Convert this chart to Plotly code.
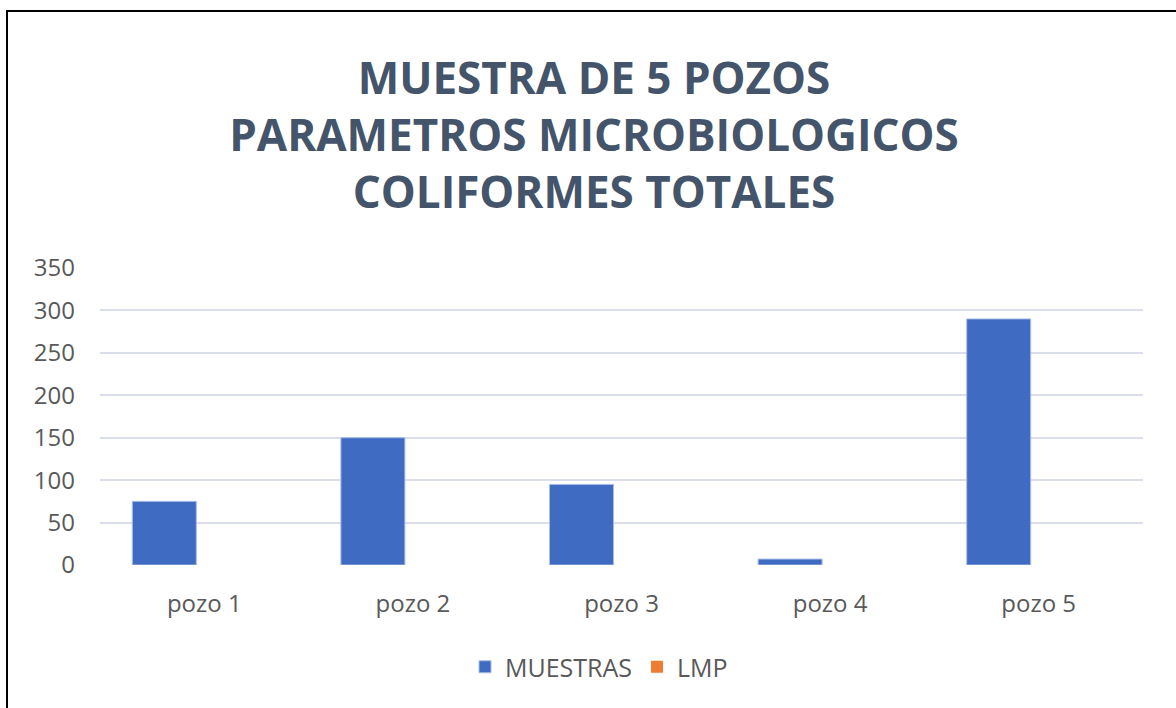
import plotly.graph_objects as go

categories = ["pozo 1", "pozo 2", "pozo 3", "pozo 4", "pozo 5"]
muestras = [75, 150, 95, 7, 290]
lmp = [0, 0, 0, 0, 0]
tick_vals = [0, 50, 100, 150, 200, 250, 300, 350]
title_lines = ["MUESTRA DE 5 POZOS", "PARAMETROS MICROBIOLOGICOS", "COLIFORMES TOTALES"]

W, H = 1176, 708
L, R, T, B = 100, 33, 268, 143
pw, ph = W - L - R, H - T - B

fig = go.Figure()
fig.add_trace(go.Bar(
    name="MUESTRAS", x=categories, y=muestras,
    marker=dict(color="#3F6BC2", line=dict(color="#A9BDE6", width=1)),
))
fig.add_trace(go.Bar(
    name="LMP", x=categories, y=lmp,
    marker=dict(color="#ED7D31", line=dict(width=0)),
))

def px_x(x):
    return (x - L) / pw

def px_y(y):
    return (H - B - y) / ph

fig.update_layout(
    width=W, height=H,
    margin=dict(l=L, r=R, t=T, b=B),
    paper_bgcolor="white", plot_bgcolor="white",
    barmode="group", bargap=0.233, bargroupgap=0.2,
    font=dict(family="Open Sans", size=24, color="#595959"),
    title=dict(
        text="<br>".join(title_lines),
        x=594 / W, xanchor="center",
        y=1 - 94 / H, yanchor="middle",
        xref="container", yref="container",
        font=dict(family="Open Sans", size=44, color="#44546A", weight="bold"),
    ),
    xaxis=dict(
        showgrid=False, showline=False, zeroline=False,
        ticks="", ticklabelstandoff=22,
        tickfont=dict(size=24, color="#595959"),
    ),
    yaxis=dict(
        range=[0, 350], tickvals=tick_vals,
        showgrid=True, gridcolor="#D9DEEA", gridwidth=2,
        zeroline=False, showline=False, ticks="",
        ticklabelstandoff=24,
        tickfont=dict(size=24, color="#595959"),
    ),
    legend=dict(
        orientation="h", x=px_x(599), xanchor="center",
        y=px_y(667), yanchor="middle",
        font=dict(size=25, color="#595959"),
        itemwidth=30,
    ),
    shapes=[dict(
        type="rect", xref="paper", yref="paper",
        x0=px_x(7), x1=px_x(1190), y0=px_y(11), y1=px_y(720),
        line=dict(color="black", width=2), layer="above",
    )],
)

fig.write_html(
    "out.html",
    config={"displayModeBar": False},
    post_script="document.body.style.margin='0';document.body.style.overflow='hidden';",
)
